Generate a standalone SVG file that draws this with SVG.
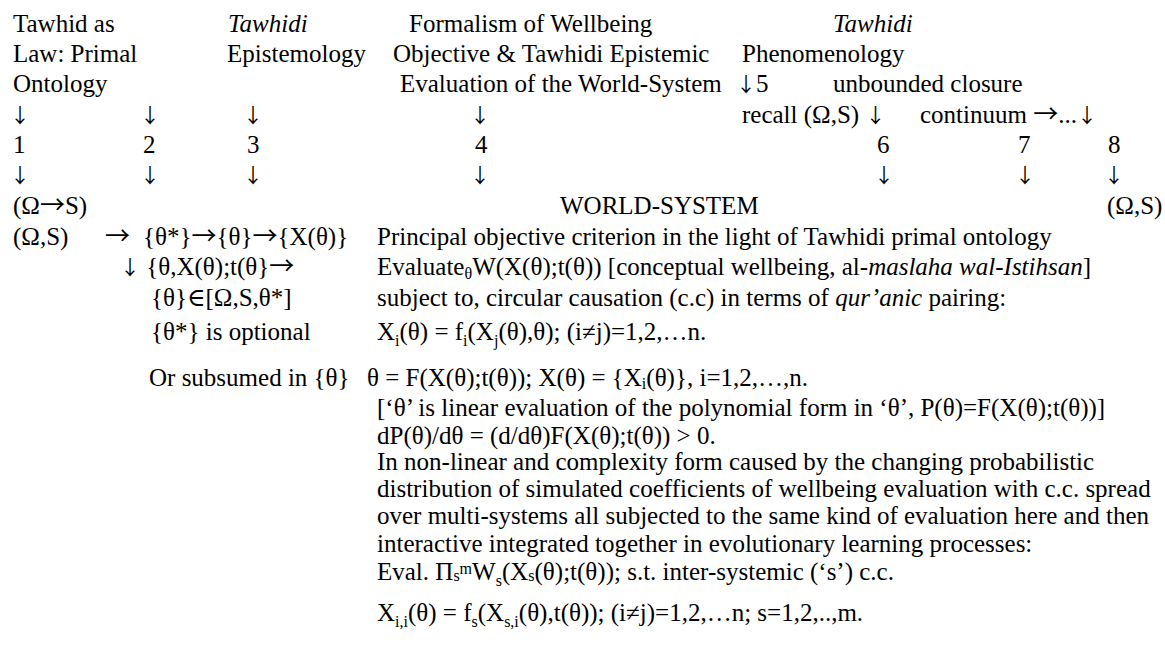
<svg xmlns="http://www.w3.org/2000/svg" width="1165" height="645" viewBox="0 0 1165 645">
<style>
text{font-family:"Liberation Serif","DejaVu Serif",serif;font-size:25px;fill:#000}
.i{font-style:italic}
.s{font-size:16px}
.ar{font-family:"Noto Sans CJK SC",sans-serif;font-size:25px}
.av{font-family:"Noto Sans CJK SC",sans-serif;font-size:20px}
.ad{font-family:"Noto Sans CJK SC",sans-serif;font-size:20px;text-anchor:middle}
</style>
<rect width="1165" height="645" fill="#fff"/>
<g id="node-primal-ontology">
<text x="13" y="32">Tawhid as</text>
<text x="13" y="62">Law: Primal</text>
<text x="13" y="92">Ontology</text>
<text x="13" y="153">1</text>
<text x="13" y="214">(Ω<tspan class="ar">→</tspan>S)</text>
<text x="13" y="245">(Ω,S)</text>
</g>
<g id="node-2">
<text x="143" y="153">2</text>
</g>
<g id="node-epistemology">
<text x="228" y="32" class="i">Tawhidi</text>
<text x="227" y="62">Epistemology</text>
<text x="247" y="153">3</text>
</g>
<g id="node-wellbeing">
<text x="409" y="32">Formalism of Wellbeing</text>
<text x="393" y="62">Objective &amp; Tawhidi Epistemic</text>
<text x="400" y="92">Evaluation of the World-System</text>
<text x="475" y="153">4</text>
</g>
<g id="node-phenomenology">
<text x="833" y="32" class="i">Tawhidi</text>
<text x="742" y="62">Phenomenology</text>
<text x="736" y="92"><tspan class="av">↓</tspan>5</text>
<text x="833" y="92">unbounded closure</text>
<text x="742" y="123">recall (Ω,S) <tspan class="av">↓</tspan></text>
<text x="920" y="123">continuum <tspan class="ar">→</tspan>...<tspan class="av">↓</tspan></text>
<text x="877" y="153">6</text>
<text x="1018" y="153">7</text>
<text x="1108" y="153">8</text>
</g>
<g id="node-world-system">
<text x="560" y="214">WORLD-SYSTEM</text>
<text x="1107" y="214">(Ω,S)</text>
</g>
<g id="node-theta">
<text x="105" y="245" class="ar">→</text>
<text x="143" y="245">{θ*}<tspan class="ar">→</tspan>{θ}<tspan class="ar">→</tspan>{X(θ)}</text>
<text x="120" y="275"><tspan class="av">↓</tspan> {θ,X(θ);t(θ}<tspan class="ar">→</tspan></text>
<text x="151" y="306">{θ}∈[Ω,S,θ*]</text>
<text x="151" y="340">{θ*} is optional</text>
<text x="149" y="386">Or subsumed in {θ}</text>
</g>
<g id="node-formalism">
<text x="377" y="245">Principal objective criterion in the light of Tawhidi primal ontology</text>
<text x="377" y="275">Evaluate<tspan class="s" y="279">θ</tspan><tspan y="275">W(X(θ);t(θ)) [conceptual wellbeing, al-</tspan><tspan class="i">maslaha wal-Istihsan</tspan>]</text>
<text x="377" y="306">subject to, circular causation (c.c) in terms of <tspan class="i">qur’anic</tspan> pairing:</text>
<text x="377" y="340">X<tspan class="s" y="346">i</tspan><tspan y="340">(θ) = f</tspan><tspan class="s" y="346">i</tspan><tspan y="340">(X</tspan><tspan class="s" y="346">j</tspan><tspan y="340">(θ),θ); (i≠j)=1,2,…n.</tspan></text>
<text x="367" y="386">θ = F(X(θ);t(θ)); X(θ) = {X<tspan class="s" y="389">i</tspan><tspan y="386">(θ)}, i=1,2,…,n.</tspan></text>
<text x="377" y="416">[‘θ’ is linear evaluation of the polynomial form in ‘θ’, P(θ)=F(X(θ);t(θ))]</text>
<text x="377" y="444">dP(θ)/dθ = (d/dθ)F(X(θ);t(θ)) &gt; 0.</text>
<text x="377" y="470">In non-linear and complexity form caused by the changing probabilistic</text>
<text x="377" y="497">distribution of simulated coefficients of wellbeing evaluation with c.c. spread</text>
<text x="377" y="524">over multi-systems all subjected to the same kind of evaluation here and then</text>
<text x="377" y="552">interactive integrated together in evolutionary learning processes:</text>
<text x="377" y="580">Eval. Π<tspan class="s" y="581">s</tspan><tspan class="s" y="574">m</tspan><tspan y="580">W</tspan><tspan class="s" y="586">s</tspan><tspan y="580">(X</tspan><tspan class="s" y="581">s</tspan><tspan y="580">(θ);t(θ)); s.t. inter-systemic (‘s’) c.c.</tspan></text>
<text x="377" y="621">X<tspan class="s" y="627">i,i</tspan><tspan y="621">(θ) = f</tspan><tspan class="s" y="627">s</tspan><tspan y="621">(X</tspan><tspan class="s" y="627">s,i</tspan><tspan y="621">(θ),t(θ)); (i≠j)=1,2,…n; s=1,2,..,m.</tspan></text>
</g>
<g id="connectors">
<text x="20" y="123" class="ad">↓</text>
<text x="150" y="123" class="ad">↓</text>
<text x="253" y="123" class="ad">↓</text>
<text x="480" y="123" class="ad">↓</text>
<text x="20" y="183" class="ad">↓</text>
<text x="150" y="183" class="ad">↓</text>
<text x="253" y="183" class="ad">↓</text>
<text x="480" y="183" class="ad">↓</text>
<text x="884" y="183" class="ad">↓</text>
<text x="1025" y="183" class="ad">↓</text>
<text x="1114" y="183" class="ad">↓</text>
</g>
</svg>
